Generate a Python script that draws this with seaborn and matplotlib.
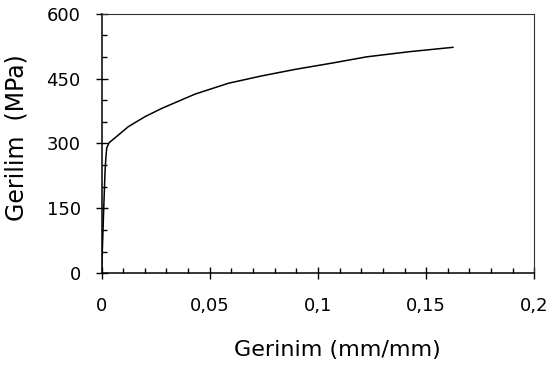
import numpy as np
import pandas as pd
import matplotlib
matplotlib.use("Agg")
import matplotlib.pyplot as plt
import seaborn as sns
from matplotlib.ticker import MultipleLocator, FuncFormatter

# Stress-strain curve
strain = [0, 0.0010, 0.0016, 0.0020, 0.0024, 0.0035, 0.0062, 0.0124, 0.0201,
          0.0278, 0.0432, 0.0586, 0.074, 0.0894, 0.107, 0.1225, 0.1425, 0.1625]
stress = [0, 150, 235, 268, 290, 302, 313, 339, 362,
          381, 414, 439, 456, 471, 486, 500, 512, 522]

x_label = "Gerinim (mm/mm)"
y_label = "Gerilim  (MPa)"

df = pd.DataFrame({"strain": strain, "stress": stress})

sns.set_theme(style="white")
plt.rcParams["font.family"] = ["DejaVu Sans"]

fig = plt.figure(figsize=(5.52, 3.65), dpi=100)
ax = fig.add_axes([0.184, 0.2507, 0.784, 0.7123])

sns.lineplot(data=df, x="strain", y="stress", ax=ax, color="black",
             linewidth=1.1, sort=False, estimator=None)

ax.set_xlim(0, 0.2)
ax.set_ylim(0, 600)
ax.xaxis.set_major_locator(MultipleLocator(0.05))
ax.xaxis.set_minor_locator(MultipleLocator(0.01))
ax.yaxis.set_major_locator(MultipleLocator(150))
ax.yaxis.set_minor_locator(MultipleLocator(50))

# decimal comma like the original
ax.xaxis.set_major_formatter(FuncFormatter(lambda v, p: f"{v:g}".replace(".", ",")))

ax.tick_params(which="major", direction="inout", length=8, width=1.0,
               color="black", labelsize=13, labelcolor="black")
ax.tick_params(which="minor", direction="in", length=3.6, width=1.0, color="black")
ax.tick_params(axis="x", which="both", bottom=True, top=False)
ax.tick_params(axis="y", which="both", left=True, right=False)
ax.tick_params(axis="x", which="major", pad=13)
ax.tick_params(axis="y", which="major", pad=11)

for side in ["left", "bottom"]:
    ax.spines[side].set_color("black")
    ax.spines[side].set_linewidth(1.1)
for side in ["top", "right"]:
    ax.spines[side].set_color("#333333")
    ax.spines[side].set_linewidth(0.8)

ax.set_xlabel(x_label, fontsize=16, color="black")
ax.set_ylabel(y_label, fontsize=17, color="black")
ax.xaxis.set_label_coords(0.546, -0.256)
ax.yaxis.set_label_coords(-0.168, 0.523)

fig.savefig("out.png", dpi=100)
